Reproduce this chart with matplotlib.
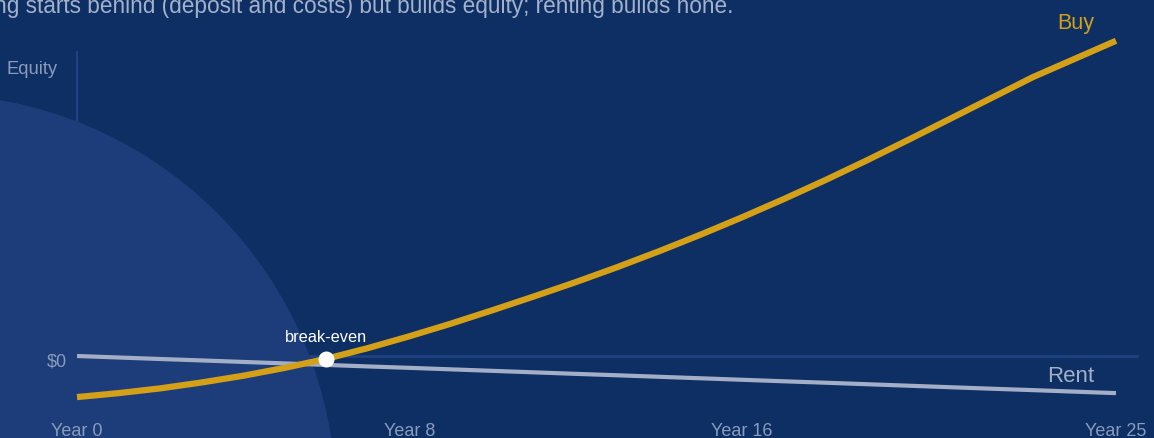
import matplotlib
matplotlib.use("Agg")
import matplotlib.pyplot as plt
from matplotlib.patches import Ellipse

# ---- data ($k equity by year) ----
years = list(range(0, 26))
buy = [-52, -47, -41, -33.5, -25, -15, -3.5, 10, 25, 41, 58, 75.5, 93.5,
       112.5, 132.5, 153.5, 175.5, 198.5, 222.5, 247.5, 273.5, 300, 326.5,
       353, 376, 399]
rent = [0, -1.9, -3.8, -5.6, -7.5, -9.4, -11.3, -13.2, -15, -16.9, -18.8,
        -20.7, -22.6, -24.4, -26.3, -28.2, -30.1, -32, -33.8, -35.7, -37.6,
        -39.5, -41.4, -43.2, -45.1, -47]
tick_years = [0, 8, 16, 25]
tick_labels = ["Year 0", "Year 8", "Year 16", "Year 25"]
break_even_year = 6
title = "Buying starts behind (deposit and costs) but builds equity; renting builds none."

# ---- styling ----
W, H = 1154, 438
BG = "#0e2f64"
CIRCLE = "#1c3d7a"
GOLD = "#d4a017"
RENT = "#a3afc6"
MUTED = "#8a9bbb"
TITLE_C = "#a3b1ca"
GRID = "#1e4282"
FONT = ["Liberation Sans", "DejaVu Sans"]

X0, XS = 77, 41.56     # pixel of year 0, px per year
Y0, YS = 356, 0.79     # pixel row of $0, px per $k

fig = plt.figure(figsize=(W / 100, H / 100), dpi=100)
fig.patch.set_facecolor(BG)
ax = fig.add_axes([0, 0, 1, 1])
ax.set_facecolor(BG)
ax.set_xlim(-X0 / XS, (W - X0) / XS)
ax.set_ylim(-(H - Y0) / YS, Y0 / YS)
ax.axis("off")

def fx(px):
    return px / W

def fy(py):
    return 1 - py / H

# decorative circle (pixel geometry converted to data units)
cx, cy, r = -70, 500, 406
ax.add_patch(Ellipse(((cx - X0) / XS, (Y0 - cy) / YS), 2 * r / XS, 2 * r / YS,
                     facecolor=CIRCLE, edgecolor="none", zorder=2))

# axis line and zero line
ax.plot([0, 0], [0, (Y0 - 52) / YS], color=GRID, lw=1.5, zorder=1)
ax.plot([0, (1137 - X0) / XS], [0, 0], color=GRID, lw=2, zorder=1)

# series
ax.plot(years, rent, color=RENT, lw=3.0, solid_capstyle="butt", zorder=4)
ax.plot(years, buy, color=GOLD, lw=4.5, solid_capstyle="butt",
        solid_joinstyle="round", zorder=5)
ax.plot([break_even_year], [buy[break_even_year]], "o", color="white",
        markersize=11.5, markeredgewidth=0, zorder=6)

# texts
fig.text(fx(733), fy(13), title, ha="right", va="baseline", color=TITLE_C,
         fontsize=16.3, family=FONT)
fig.text(fx(7), fy(69), "Equity", ha="left", va="center", color=MUTED,
         fontsize=13.2, family=FONT)
fig.text(fx(67), fy(362), "$0", ha="right", va="center", color=MUTED,
         fontsize=13, family=FONT)
for yr, lab in zip(tick_years, tick_labels):
    fig.text(fx(X0 + XS * yr), fy(435.5), lab, ha="center", va="baseline",
             color=MUTED, fontsize=13, family=FONT)
fig.text(fx(1076), fy(23), "Buy", ha="center", va="center", color=GOLD,
         fontsize=15.5, family=FONT)
fig.text(fx(1071), fy(377), "Rent", ha="center", va="center", color=RENT,
         fontsize=16, family=FONT)
fig.text(fx(326), fy(338), "break-even", ha="center", va="center",
         color="white", fontsize=11.8, family=FONT)

fig.savefig("out.png", dpi=100, facecolor=BG)
